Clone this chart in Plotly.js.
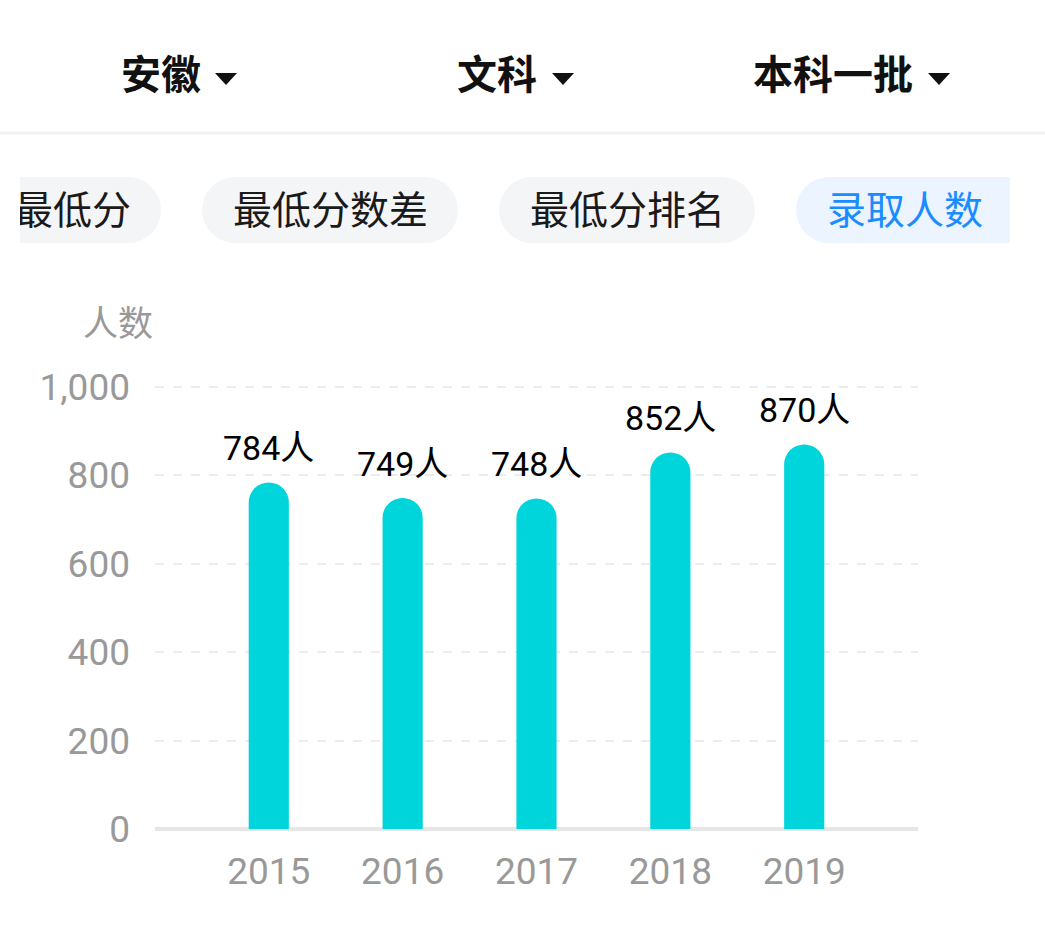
<!DOCTYPE html>
<html>
<head>
<meta charset="utf-8">
<script src="https://cdn.plot.ly/plotly-3.0.1.min.js"></script>
<style>
html,body{margin:0;padding:0;background:#fff;}
#wrap{position:relative;width:1045px;height:935px;}
#chart{width:1045px;height:935px;}
#clipL{position:absolute;left:0;top:165px;width:20px;height:90px;background:#fff;}
</style>
</head>
<body>
<div id="wrap"><div id="chart"></div><div id="clipL"></div></div>
<script>
const years = ['2015','2016','2017','2018','2019'];
const admitted = [784, 749, 748, 852, 870];
const labelSuffix = '人';
const yTickValues = [0, 200, 400, 600, 800, 1000];
const filters = ['安徽', '文科', '本科一批'];
const tabs = ['最低分', '最低分数差', '最低分排名', '录取人数'];
const yTitle = '人数';

const W = 1045, H = 935;
const M = {l:155, r:127, t:385, b:106};
const PW = W - M.l - M.r, PH = H - M.t - M.b;
const px = x => (x - M.l) / PW;
const py = y => (H - M.b - y) / PH;

const FONT = 'Roboto, "Noto Sans CJK SC", sans-serif';
const CJK = '"Noto Sans CJK SC", Roboto, sans-serif';

const shapes = [];
const annotations = [];

// header separator
shapes.push({type:'line', xref:'paper', yref:'paper', x0:px(0), x1:px(W), y0:py(133), y1:py(133),
  line:{color:'#f2f2f2', width:3}, layer:'below'});

// header filters
const filterCenters = [161, 497, 833];
const triCenters = [226, 563, 939];
filters.forEach((f, i) => {
  annotations.push({xref:'paper', yref:'paper', x:px(filterCenters[i]), y:py(72), text:f, showarrow:false,
    xanchor:'center', yanchor:'middle', font:{family:CJK, size:40, color:'#111', weight:'bold'}});
  const c = triCenters[i];
  shapes.push({type:'path', xref:'paper', yref:'paper',
    path:`M ${px(c-11)},${py(73)} L ${px(c+11)},${py(73)} L ${px(c)},${py(85)} Z`,
    fillcolor:'#111', line:{width:0}});
});

// tabs (pills)
const pillTop = 177, pillBot = 243, rad = 33;
const pillSpans = [[20,161,true,false],[202,458,false,false],[499,755,false,false],[796,1010,false,true]];
const tabCenters = [72, 330, 627, 905];
pillSpans.forEach((s, i) => {
  const active = i === 3;
  const fill = active ? '#ebf4ff' : '#f4f5f7';
  const [a, b, clipLeft, clipRight] = s;
  const rx0 = clipLeft ? a : a + rad;
  const rx1 = clipRight ? b : b - rad;
  shapes.push({type:'rect', xref:'paper', yref:'paper', x0:px(rx0), x1:px(rx1), y0:py(pillBot), y1:py(pillTop),
    fillcolor:fill, line:{width:0}, layer:'below'});
  if (!clipLeft) shapes.push({type:'circle', xref:'paper', yref:'paper', x0:px(a), x1:px(a+2*rad), y0:py(pillBot), y1:py(pillTop),
    fillcolor:fill, line:{width:0}, layer:'below'});
  if (!clipRight) shapes.push({type:'circle', xref:'paper', yref:'paper', x0:px(b-2*rad), x1:px(b), y0:py(pillBot), y1:py(pillTop),
    fillcolor:fill, line:{width:0}, layer:'below'});
  annotations.push({xref:'paper', yref:'paper', x:px(tabCenters[i]), y:py(207), text:tabs[i], showarrow:false,
    xanchor:'center', yanchor:'middle', font:{family:CJK, size:39, color: active ? '#1a8cff' : '#1a1a1a'}});
});

// y axis title
annotations.push({xref:'paper', yref:'paper', x:px(118), y:py(320), text:yTitle, showarrow:false,
  xanchor:'center', yanchor:'middle', font:{family:CJK, size:35, color:'#999999'}});

// value labels (category index positions)
years.forEach((yr, i) => {
  annotations.push({x:i, y:admitted[i], xref:'x', yref:'y', text:admitted[i] + labelSuffix, showarrow:false,
    xanchor:'center', yanchor:'middle', yshift:34, font:{family:FONT, size:34, color:'#000'}});
});

const trace = {
  type:'bar', x:years, y:admitted, width:0.3,
  marker:{color:'#00d5dc', cornerradius:20, line:{width:0}},
  hoverinfo:'none'
};

const layout = {
  width:W, height:H, margin:M, paper_bgcolor:'#fff', plot_bgcolor:'#fff',
  showlegend:false, separators:'.,',
  font:{family:FONT},
  xaxis:{type:'category', range:[-0.85, 4.85], showgrid:false, showline:false, zeroline:false,
    ticks:'', ticklabelstandoff:17, tickfont:{family:FONT, size:37, color:'#999999'}, fixedrange:true},
  yaxis:{range:[0,1004.5], tickvals:yTickValues, tickformat:',d', showgrid:true, gridcolor:'#ececec', gridwidth:2,
    griddash:'dash', zeroline:true, zerolinecolor:'#e6e6e6', zerolinewidth:4, showline:false,
    ticks:'', ticklabelstandoff:24, tickfont:{family:FONT, size:37, color:'#999999'}, fixedrange:true},
  shapes:shapes, annotations:annotations
};

Plotly.newPlot('chart', [trace], layout, {displayModeBar:false, staticPlot:true});
</script>
</body>
</html>
